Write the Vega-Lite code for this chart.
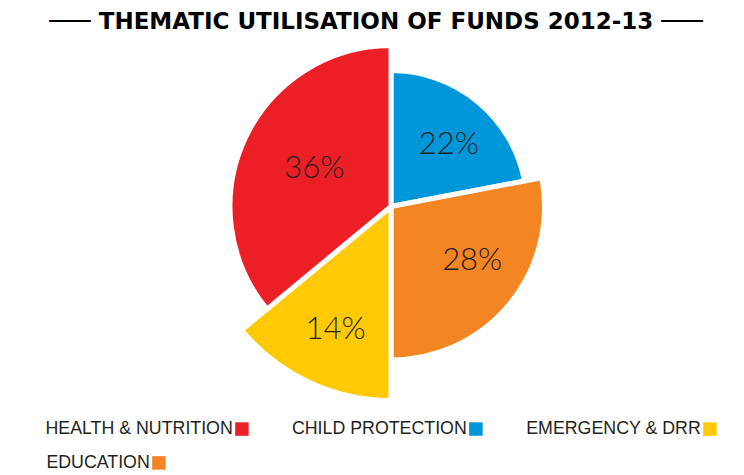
{
  "$schema": "https://vega.github.io/schema/vega-lite/v6.json",
  "autosize": {"type": "none"},
  "width": 700,
  "height": 323,
  "padding": {"left": 41, "right": 3, "top": 45, "bottom": 107},
  "background": "white",
  "config": {
    "view": {"stroke": null},
    "legend": {
      "orient": "none",
      "direction": "horizontal",
      "title": null,
      "symbolType": "square",
      "symbolSize": 182,
      "symbolStrokeWidth": 0,
      "labelFont": "Liberation Sans",
      "labelFontSize": 17.8,
      "labelColor": "#231f20",
      "labelAlign": "right",
      "labelOffset": -18,
      "labelLimit": 300,
      "columnPadding": 42,
      "rowPadding": 16
    }
  },
  "title": {
    "text": "─── THEMATIC UTILISATION OF FUNDS 2012-13 ───",
    "font": "DejaVu Sans",
    "fontSize": 23,
    "fontWeight": "bold",
    "color": "#000000",
    "anchor": "middle",
    "frame": "group",
    "dx": -15,
    "offset": 9
  },
  "data": {
    "values": [
      {"category": "CHILD PROTECTION", "value": 22, "label": "22%", "order": 1},
      {"category": "EDUCATION", "value": 28, "label": "28%", "order": 2},
      {"category": "EMERGENCY & DRR", "value": 14, "label": "14%", "order": 3},
      {"category": "HEALTH & NUTRITION", "value": 36, "label": "36%", "order": 4}
    ]
  },
  "transform": [
    {"stack": "value", "groupby": [], "sort": [{"field": "order", "order": "ascending"}], "as": ["start", "end"]}
  ],
  "layer": [
    {
      "transform": [{"filter": "datum.category === 'CHILD PROTECTION'"}],
      "mark": {"type": "arc", "outerRadius": 136, "stroke": "white", "strokeWidth": 5, "strokeJoin": "round"},
      "encoding": {
        "theta": {"field": "start", "type": "quantitative", "stack": null, "scale": {"domain": [0, 100]}},
        "theta2": {"field": "end"},
        "color": {
          "field": "category", "type": "nominal",
          "scale": {"domain": ["HEALTH & NUTRITION", "CHILD PROTECTION", "EMERGENCY & DRR"], "range": ["#ED1F26", "#0096DA", "#FFCA05"]},
          "legend": {"legendX": 192, "legendY": 375, "columns": 3}
        }
      }
    },
    {
      "transform": [{"filter": "datum.category === 'EDUCATION'"}],
      "mark": {"type": "arc", "outerRadius": 153.5, "stroke": "white", "strokeWidth": 5, "strokeJoin": "round"},
      "encoding": {
        "theta": {"field": "start", "type": "quantitative", "stack": null, "scale": {"domain": [0, 100]}},
        "theta2": {"field": "end"},
        "fill": {
          "field": "category", "type": "nominal",
          "scale": {"domain": ["EDUCATION"], "range": ["#F38523"]},
          "legend": {"legendX": 109, "legendY": 409}
        }
      }
    },
    {
      "transform": [{"filter": "datum.category === 'EMERGENCY & DRR'"}],
      "mark": {"type": "arc", "outerRadius": 194, "stroke": "white", "strokeWidth": 5, "strokeJoin": "round"},
      "encoding": {
        "theta": {"field": "start", "type": "quantitative", "stack": null, "scale": {"domain": [0, 100]}},
        "theta2": {"field": "end"},
        "color": {"field": "category", "type": "nominal"}
      }
    },
    {
      "transform": [{"filter": "datum.category === 'HEALTH & NUTRITION'"}],
      "mark": {"type": "arc", "outerRadius": 161, "stroke": "white", "strokeWidth": 5, "strokeJoin": "round"},
      "encoding": {
        "theta": {"field": "start", "type": "quantitative", "stack": null, "scale": {"domain": [0, 100]}},
        "theta2": {"field": "end"},
        "color": {"field": "category", "type": "nominal"}
      }
    },
    {
      "mark": {"type": "text", "radius": 84.5, "dx": 4, "dy": 4, "font": "Lato", "fontSize": 31, "fontWeight": 300, "color": "#231f20", "baseline": "middle"},
      "encoding": {
        "theta": {"field": "value", "type": "quantitative", "stack": true},
        "order": {"field": "order", "type": "quantitative"},
        "text": {"condition": {"test": "datum.category === 'CHILD PROTECTION'", "field": "label"}, "value": ""}
      }
    },
    {
      "mark": {"type": "text", "radius": 97.6, "dx": 6, "dy": -8, "font": "Lato", "fontSize": 31, "fontWeight": 300, "color": "#231f20", "baseline": "middle"},
      "encoding": {
        "theta": {"field": "value", "type": "quantitative", "stack": true},
        "order": {"field": "order", "type": "quantitative"},
        "text": {"condition": {"test": "datum.category === 'EDUCATION'", "field": "label"}, "value": ""}
      }
    },
    {
      "mark": {"type": "text", "radius": 135, "dx": 2, "dy": 1, "font": "Lato", "fontSize": 31, "fontWeight": 300, "color": "#231f20", "baseline": "middle"},
      "encoding": {
        "theta": {"field": "value", "type": "quantitative", "stack": true},
        "order": {"field": "order", "type": "quantitative"},
        "text": {"condition": {"test": "datum.category === 'EMERGENCY & DRR'", "field": "label"}, "value": ""}
      }
    },
    {
      "mark": {"type": "text", "radius": 87, "dx": 2, "dy": 0, "font": "Lato", "fontSize": 31, "fontWeight": 300, "color": "#231f20", "baseline": "middle"},
      "encoding": {
        "theta": {"field": "value", "type": "quantitative", "stack": true},
        "order": {"field": "order", "type": "quantitative"},
        "text": {"condition": {"test": "datum.category === 'HEALTH & NUTRITION'", "field": "label"}, "value": ""}
      }
    }
  ]
}
